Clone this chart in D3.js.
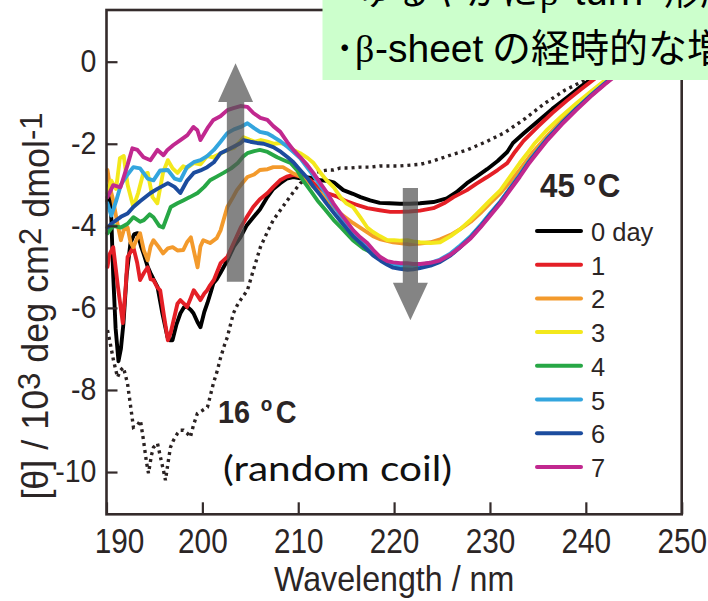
<!DOCTYPE html>
<html><head><meta charset="utf-8">
<script src="https://cdn.jsdelivr.net/npm/d3@7"></script>
<style>body{margin:0;background:#fff}svg{display:block}</style>
</head><body>
<svg id="c" width="708" height="601"></svg>
<script>
// ---------- data ----------
const xTicks = [190,200,210,220,230,240,250];
const xTickLabels = ["190","200","210","220","230","240","250"];
const yTicks = [0,-2,-4,-6,-8,-10];
const yTickLabels = ["0","-2","-4","-6","-8","-10"];
const seriesNames = ["0 day","1","2","3","4","5","6","7"];
const seriesColors = ["#000000","#e41f26","#f39a2c","#f3e81c","#27a745","#33a5de","#1c4c9e","#c1288f"];

const day0 = [[190.1,-3.4],[190.3,-3.0],[190.5,-3.8],[190.7,-5.2],[190.95,-6.5],[191.25,-7.3],[191.5,-7.0],[191.77,-6.37],[192.1,-5.2],[192.5,-4.42],[192.9,-4.2],[193.23,-4.18],[193.6,-4.5],[193.86,-4.67],[194.3,-5.0],[194.59,-5.15],[194.9,-5.3],[195.32,-5.49],[195.8,-6.1],[196.36,-6.71],[196.6,-6.79],[196.88,-6.79],[197.3,-6.4],[197.71,-6.13],[198.1,-5.98],[198.44,-5.98],[198.8,-6.05],[199.07,-6.13],[199.5,-6.35],[199.8,-6.47],[200.2,-6.1],[200.53,-5.88],[200.9,-5.6],[201.15,-5.4],[201.5,-5.3],[201.88,-5.15],[202.61,-4.84],[203.3,-4.5],[203.97,-4.28],[204.6,-4.0],[205.32,-3.79],[206,-3.6],[206.78,-3.3],[207.4,-3.1],[208.13,-2.96],[208.8,-2.85],[209.49,-2.81],[210.22,-2.84],[210.95,-2.82],[211.6,-2.84],[212.3,-2.89],[213,-2.9],[213.7,-2.94],[214.7,-3.13],[215.7,-3.22],[216.5,-3.3],[217.5,-3.38],[218.5,-3.44],[219.5,-3.45],[220.6,-3.46],[221.6,-3.46],[222.7,-3.45],[224.1,-3.42],[225.5,-3.33],[226.5,-3.18],[227.6,-2.96],[228.6,-2.8],[229.7,-2.62],[230.8,-2.42],[231.8,-2.2],[232.4,-1.98],[233.5,-1.75],[235,-1.45],[236.5,-1.15],[238,-0.88],[239.5,-0.6],[241,-0.35],[242.5,-0.12],[244,0.1],[245.5,0.3]];
const day1 = [[190.1,-5.0],[190.3,-4.7],[190.7,-4.52],[191.2,-5.5],[191.7,-6.37],[192.0,-5.5],[192.2,-4.76],[192.8,-4.52],[193.2,-4.9],[193.5,-5.32],[193.9,-5.15],[194.3,-5.01],[194.6,-5.3],[194.9,-5.32],[195.3,-5.5],[195.6,-5.57],[196.0,-6.2],[196.4,-6.79],[196.7,-6.6],[197.0,-6.3],[197.4,-5.9],[197.7,-5.81],[198.1,-5.9],[198.4,-5.98],[198.8,-5.75],[199.1,-5.57],[199.5,-5.7],[199.8,-5.81],[200.2,-5.65],[200.5,-5.57],[200.8,-5.45],[201.2,-5.32],[201.9,-4.91],[202.6,-4.76],[203.3,-4.4],[204,-4.04],[204.6,-3.8],[205.3,-3.54],[206,-3.35],[206.8,-3.2],[207.4,-3.05],[208.1,-2.89],[208.8,-2.8],[209.5,-2.76],[210.5,-2.81],[211.2,-2.87],[212,-3.05],[213,-3.2],[214,-3.28],[215,-3.4],[216,-3.48],[217.2,-3.57],[218.5,-3.62],[219.6,-3.66],[220.6,-3.66],[221.6,-3.65],[222.7,-3.63],[224.1,-3.57],[225.2,-3.45],[226.2,-3.3],[227.6,-3.13],[228.6,-2.97],[229.7,-2.81],[230.8,-2.64],[231.8,-2.47],[232.6,-2.2],[233.5,-1.93],[235,-1.58],[236.5,-1.25],[238,-0.95],[239.5,-0.67],[241,-0.4],[242.5,-0.15],[244,0.08],[245.5,0.28]];
const day2 = [[190.1,-2.64],[190.4,-3.1],[190.7,-3.38],[191.1,-3.9],[191.5,-4.35],[191.8,-4.1],[192.2,-4.04],[192.5,-4.4],[192.8,-4.52],[193.2,-4.3],[193.5,-4.18],[193.9,-4.6],[194.3,-4.84],[194.6,-4.5],[194.9,-4.35],[195.4,-4.5],[195.9,-4.67],[196.4,-4.55],[196.9,-4.52],[197.4,-4.6],[198,-4.59],[198.4,-4.4],[198.8,-4.28],[199.1,-4.6],[199.5,-5.01],[199.8,-4.5],[200.1,-4.35],[200.8,-4.42],[201.5,-4.3],[201.9,-4.11],[202.6,-3.54],[203.2,-3.3],[203.6,-3.13],[204.2,-2.95],[204.7,-2.81],[205.4,-2.75],[206,-2.64],[206.8,-2.62],[207.4,-2.57],[208.4,-2.57],[209.4,-2.71],[210.2,-2.8],[210.9,-2.89],[211.6,-3.05],[212.3,-3.2],[213,-3.35],[213.7,-3.54],[214.4,-3.7],[215.7,-3.93],[216.5,-4.05],[217.8,-4.25],[218.6,-4.33],[219.9,-4.4],[220.6,-4.42],[221.6,-4.45],[222.7,-4.43],[223.8,-4.4],[224.8,-4.33],[225.9,-4.22],[226.9,-4.08],[228,-3.9],[229,-3.69],[230,-3.45],[231.1,-3.2],[232.1,-2.93],[233.1,-2.64],[234.5,-2.2],[236,-1.8],[237.5,-1.43],[239,-1.1],[240.5,-0.78],[242,-0.48],[243.5,-0.2],[245,0.05],[246,0.2]];
const day3 = [[190.1,-3.2],[190.5,-2.9],[191,-3.1],[191.4,-2.35],[191.8,-2.3],[192.2,-3.0],[192.8,-3.54],[193.3,-3.2],[193.8,-2.75],[194.3,-2.71],[194.8,-3.3],[195.3,-3.45],[195.9,-2.7],[196.4,-2.4],[196.9,-2.6],[197.4,-2.71],[198,-2.55],[198.4,-2.59],[199.1,-2.47],[199.8,-2.5],[200.5,-2.3],[201.1,-2.33],[201.8,-2.25],[202.6,-2.15],[203.3,-2.1],[203.8,-1.98],[204.3,-1.84],[204.9,-1.9],[205.5,-1.95],[206.1,-1.91],[206.8,-1.95],[207.5,-2.0],[208.2,-1.98],[208.9,-2.05],[209.5,-2.15],[210.2,-2.23],[211,-2.35],[211.6,-2.47],[212.3,-2.7],[213,-2.9],[213.7,-3.06],[214.4,-3.3],[215,-3.45],[215.7,-3.54],[216.5,-3.8],[217.2,-4.04],[217.8,-4.15],[218.5,-4.25],[219.3,-4.35],[220,-4.35],[220.6,-4.36],[221.4,-4.35],[222,-4.38],[222.7,-4.4],[223.8,-4.42],[224.8,-4.4],[225.9,-4.25],[226.9,-4.08],[228,-3.85],[229,-3.62],[230,-3.38],[231.1,-3.13],[232.1,-2.8],[233.1,-2.47],[234,-2.2],[234.7,-1.98],[236,-1.65],[237.5,-1.32],[239,-1.02],[240.5,-0.73],[242,-0.45],[243.5,-0.18],[245,0.06],[246,0.2]];
const day4 = [[190.1,-4.18],[190.7,-4.0],[191.5,-4.04],[192.2,-3.95],[192.8,-3.79],[193.5,-3.9],[193.9,-3.86],[194.5,-3.72],[194.9,-3.79],[195.5,-4.0],[195.9,-4.04],[196.7,-3.54],[197.4,-3.45],[198,-3.38],[198.7,-3.3],[199.5,-3.2],[200.2,-3.05],[200.8,-2.89],[201.5,-2.8],[202.2,-2.71],[203,-2.6],[203.7,-2.47],[204.3,-2.3],[204.7,-2.23],[205.4,-2.18],[206,-2.15],[206.8,-2.2],[207.8,-2.33],[208.5,-2.4],[209.2,-2.47],[209.9,-2.65],[210.5,-2.89],[211.3,-3.15],[212,-3.38],[212.8,-3.6],[213.7,-3.86],[214.5,-4.05],[215.7,-4.35],[216.8,-4.55],[217.8,-4.67],[218.6,-4.8],[219.3,-4.9],[220,-4.97],[220.6,-5.0],[221.4,-5.02],[222,-5.02],[222.7,-5.0],[223.8,-4.94],[224.8,-4.85],[225.9,-4.7],[226.9,-4.5],[228,-4.26],[229,-4.0],[230,-3.72],[231.1,-3.41],[232.1,-3.09],[233.1,-2.77],[234,-2.46],[234.9,-2.19],[236,-1.87],[237.5,-1.5],[239,-1.15],[240.5,-0.83],[242,-0.53],[243.5,-0.25],[245,0.01],[246,0.16]];
const day5 = [[190.1,-3.45],[190.5,-3.75],[191,-3.4],[191.5,-3.0],[192.2,-2.75],[192.8,-2.57],[193.5,-2.6],[194.3,-2.85],[194.9,-2.89],[195.6,-2.65],[196.4,-2.64],[197.1,-2.85],[197.7,-2.89],[198.4,-2.57],[199.1,-2.45],[199.8,-2.4],[200.5,-2.3],[201.2,-2.15],[201.9,-1.95],[202.6,-1.74],[203.3,-1.65],[204,-1.59],[204.7,-1.5],[205.4,-1.62],[206,-1.71],[206.8,-1.75],[207.4,-1.83],[208.2,-1.95],[208.9,-2.08],[209.5,-2.2],[210.2,-2.35],[211,-2.6],[211.6,-2.78],[212.3,-3.02],[213,-3.25],[213.7,-3.5],[214.4,-3.74],[215.1,-3.96],[215.7,-4.15],[216.5,-4.32],[217.2,-4.47],[217.8,-4.62],[218.6,-4.78],[219.3,-4.88],[219.9,-4.93],[220.6,-4.96],[221.4,-4.97],[222,-4.98],[222.7,-4.95],[223.8,-4.9],[224.8,-4.82],[225.9,-4.67],[226.9,-4.48],[228,-4.25],[229,-3.99],[230,-3.7],[231.1,-3.4],[232.1,-3.08],[233.1,-2.76],[234,-2.45],[234.9,-2.18],[236,-1.86],[237.5,-1.49],[239,-1.14],[240.5,-0.82],[242,-0.52],[243.5,-0.24],[245,0.02],[246,0.17]];
const day6 = [[190.1,-4.04],[190.5,-3.95],[191.5,-3.78],[192.2,-3.7],[192.8,-3.54],[193.5,-3.4],[194.6,-3.2],[195.3,-3.1],[196.4,-2.96],[197.1,-3.05],[197.7,-3.2],[198.4,-2.9],[199.1,-2.71],[199.8,-2.65],[200.5,-2.57],[201.2,-2.45],[201.9,-2.23],[202.6,-2.15],[203.2,-2.08],[204,-1.98],[204.3,-1.91],[205,-1.95],[205.7,-1.98],[206.4,-2.0],[207.4,-2.08],[208.2,-2.2],[208.9,-2.33],[209.5,-2.45],[210.2,-2.64],[211,-2.85],[211.6,-3.05],[212.3,-3.25],[213,-3.47],[213.7,-3.68],[214.4,-3.88],[215.1,-4.08],[215.7,-4.25],[216.5,-4.42],[217.2,-4.58],[217.8,-4.72],[218.6,-4.85],[219.3,-4.95],[219.9,-5.02],[220.6,-5.05],[221.4,-5.07],[222,-5.06],[222.7,-5.03],[223.8,-4.97],[224.8,-4.88],[225.9,-4.72],[226.9,-4.52],[228,-4.28],[229,-4.02],[230,-3.73],[231.1,-3.42],[232.1,-3.1],[233.1,-2.78],[234,-2.47],[234.9,-2.2],[236,-1.88],[237.5,-1.5],[239,-1.15],[240.5,-0.83],[242,-0.53],[243.5,-0.25],[245,0.01],[246,0.16]];
const day7 = [[190.1,-3.3],[190.7,-3.01],[191.46,-3.06],[192.19,-2.52],[192.7,-2.11],[193.23,-2.15],[193.86,-2.33],[194.59,-2.4],[195.32,-2.15],[195.94,-2.28],[196.36,-2.15],[196.98,-2.03],[197.71,-1.91],[198.44,-1.79],[199.07,-1.59],[199.48,-1.67],[199.8,-1.91],[200.53,-1.62],[201.15,-1.42],[201.88,-1.33],[202.61,-1.18],[203.24,-1.13],[203.97,-1.08],[204.7,-1.1],[205.32,-1.25],[206.05,-1.37],[206.78,-1.42],[207.4,-1.57],[208.13,-1.71],[208.86,-1.96],[209.49,-2.15],[210.22,-2.33],[210.95,-2.52],[211.57,-2.71],[212.3,-2.96],[213.03,-3.2],[213.66,-3.45],[214.39,-3.69],[215.1,-3.91],[215.74,-4.11],[216.47,-4.28],[217.2,-4.42],[217.83,-4.59],[218.56,-4.76],[219.29,-4.86],[219.91,-4.89],[220.64,-4.91],[221.37,-4.91],[222.0,-4.93],[222.73,-4.93],[223.8,-4.9],[224.8,-4.84],[225.9,-4.7],[226.9,-4.52],[228,-4.3],[229,-4.04],[230,-3.76],[231.1,-3.45],[232.1,-3.13],[233.1,-2.81],[234,-2.5],[234.9,-2.23],[236,-1.91],[237.5,-1.53],[239,-1.18],[240.5,-0.85],[242,-0.55],[243.5,-0.27],[245,0.0],[246,0.15]];
const coil16 = [[190.1,-6.54],[190.42,-6.9],[190.73,-7.28],[191.15,-7.69],[191.46,-7.52],[191.77,-7.45],[192.19,-7.84],[192.5,-8.37],[192.81,-8.91],[193.23,-8.86],[193.54,-8.74],[193.86,-9.23],[194.17,-9.76],[194.38,-10.03],[194.69,-9.59],[194.9,-9.4],[195.32,-9.3],[195.63,-9.64],[195.94,-9.96],[196.15,-10.2],[196.46,-9.71],[196.67,-9.4],[196.98,-9.23],[197.4,-9.06],[197.71,-8.98],[198.03,-8.98],[198.44,-9.06],[198.75,-9.15],[199.07,-8.86],[199.48,-8.57],[200.0,-8.5],[200.53,-8.42],[200.84,-8.13],[201.15,-7.84],[201.57,-7.52],[201.88,-7.23],[202.3,-6.91],[202.61,-6.71],[202.92,-6.42],[203.24,-6.13],[203.65,-5.93],[203.97,-5.81],[204.7,-5.57],[205.32,-5.08],[206.05,-4.52],[206.78,-4.15],[207.4,-3.86],[208.13,-3.62],[208.86,-3.38],[209.49,-3.18],[210.22,-2.96],[210.95,-2.84],[211.57,-2.71],[212.3,-2.67],[213.03,-2.64],[213.66,-2.64],[214.39,-2.59],[215.4,-2.59],[216.47,-2.57],[217.5,-2.57],[218.56,-2.54],[219.6,-2.54],[220.64,-2.54],[221.7,-2.52],[222.73,-2.5],[224.08,-2.42],[225.85,-2.28],[227.62,-2.15],[229.7,-1.94],[231.6,-1.72],[233.7,-1.38],[235.75,-1.01],[237.84,-0.69],[239.92,-0.45],[242,-0.15],[244.1,0.09]];
const seriesData = [day0,day1,day2,day3,day4,day5,day6,day7];

// ---------- setup ----------
const svg = d3.select("#c");
const FONT = "'Liberation Sans', Arial, Helvetica, sans-serif";
const CJK = "'Noto Sans CJK JP', sans-serif";
const SERIF = "'Liberation Serif', 'Times New Roman', serif";
const axisColor = "#342b2b";
const x = d3.scaleLinear().domain([190,250]).range([106.5,681.7]);
const y = d3.scaleLinear().domain([-11.03,1.26]).range([514.3,10]);

svg.append("rect").attr("width",708).attr("height",601).attr("fill","#fff");

const defs = svg.append("defs");
defs.append("clipPath").attr("id","clip").append("rect")
  .attr("x",x(190)-3).attr("y",y(1.26)).attr("width",x(250)-x(190)+3).attr("height",y(-11.03)-y(1.26));

const line = d3.line().x(d=>x(d[0])).y(d=>y(d[1]));
const gPlot = svg.append("g").attr("clip-path","url(#clip)");

gPlot.append("path").datum(coil16).attr("d",line).attr("fill","none")
  .attr("stroke","#2a2222").attr("stroke-width",3.4).attr("stroke-dasharray","3,4");

seriesData.forEach((s,i)=>{
  gPlot.append("path").datum(s).attr("d",line).attr("fill","none")
    .attr("stroke",seriesColors[i]).attr("stroke-width",3.9)
    .attr("stroke-linejoin","round").attr("stroke-linecap","round");
});

// arrows (annotation, positioned in data units)
function arrow(lam, vTail, vBase, vTip, shaftHalf, headHalf){
  const cx=x(lam), yt=y(vTail), yb=y(vBase), yp=y(vTip);
  const pts=[[cx-shaftHalf,yt],[cx-shaftHalf,yb],[cx-headHalf,yb],[cx,yp],[cx+headHalf,yb],[cx+shaftHalf,yb],[cx+shaftHalf,yt]];
  svg.append("path").attr("d","M"+pts.map(p=>p.join(",")).join("L")+"Z")
    .attr("fill","#555").attr("opacity",0.72);
}
arrow(203.46,-5.36,-0.98,-0.04,8.7,17.5);
arrow(221.7,-3.08,-5.39,-6.3,7.6,17.5);

// ---------- axes ----------
const xAxis = d3.axisBottom(x).tickValues(xTicks).tickFormat((d,i)=>xTickLabels[i])
  .tickSizeInner(-12).tickSizeOuter(0).tickPadding(14);
const gx = svg.append("g").attr("transform",`translate(0,${y(-11.03)})`).call(xAxis);
const yAxis = d3.axisLeft(y).tickValues(yTicks).tickFormat((d,i)=>yTickLabels[i])
  .tickSizeInner(-11).tickSizeOuter(0).tickPadding(11);
const gy = svg.append("g").attr("transform",`translate(${x(190)},0)`).call(yAxis);

[gx,gy].forEach(g=>{
  g.select(".domain").remove();
  g.selectAll(".tick line").attr("stroke",axisColor).attr("stroke-width",2.2);
  g.selectAll(".tick text").attr("fill","#2b2525").style("font-family",FONT);
});
gx.selectAll(".tick text").style("font-size","35px").attr("transform","scale(0.85,1)");
gx.selectAll(".tick text").filter((d,i)=>i===0).attr("dx",14.7);
gy.selectAll(".tick text").style("font-size","31px").attr("transform","scale(0.92,1)");

svg.append("rect").attr("x",x(190)).attr("y",y(1.26)).attr("width",x(250)-x(190)).attr("height",y(-11.03)-y(1.26))
  .attr("fill","none").attr("stroke",axisColor).attr("stroke-width",2.6);

// helper for horizontally condensed text
function ctext(px,py,sx,opts){
  const g = svg.append("g").attr("transform",`translate(${px},${py}) scale(${sx},1)`);
  const t = g.append("text").attr("x",0).attr("y",0)
    .style("font-family",opts.family||FONT).style("font-size",opts.size+"px")
    .style("font-weight",opts.weight||"normal").attr("fill",opts.fill||"#2b2525")
    .attr("text-anchor",opts.anchor||"start");
  return t;
}

// axis titles
ctext(x(220),591,0.92,{size:35,anchor:"middle"}).text("Wavelength / nm");
{
  const g = svg.append("g").attr("transform","translate(48,306) rotate(-90) scale(0.97,1)");
  const t = g.append("text").attr("text-anchor","middle").style("font-family",FONT).style("font-size","37px").attr("fill","#2b2525");
  t.append("tspan").text("[θ] / 10");
  t.append("tspan").attr("dy","-0.25em").style("font-size","32px").text("3");
  t.append("tspan").attr("dy","0.22em").text(" deg cm");
  t.append("tspan").attr("dy","-0.22em").style("font-size","32px").text("2");
  t.append("tspan").attr("dy","0.22em").text(" dmol");
  t.append("tspan").attr("dy","-0.22em").style("font-size","32px").text("-1");
}

// legend
const legTitle = ctext(540,197,0.95,{size:33,weight:"bold"});
legTitle.append("tspan").text("45 ");
legTitle.append("tspan").attr("dy",-12).style("font-size","21px").text("o");
legTitle.append("tspan").attr("dy",12).attr("dx",2).text("C");
seriesNames.forEach((n,i)=>{
  const ly = 231 + i*33.7;
  svg.append("line").attr("x1",537).attr("x2",581).attr("y1",ly).attr("y2",ly)
    .attr("stroke",seriesColors[i]).attr("stroke-width",4).attr("stroke-linecap","round");
  ctext(591,ly+10,0.98,{size:26}).text(n);
});

// 16 oC annotation
const t16 = ctext(218,423,0.9,{size:32,weight:"bold"});
t16.append("tspan").text("16 ");
t16.append("tspan").attr("dy",-12).attr("dx",3).style("font-size","21px").text("o");
t16.append("tspan").attr("dy",12).attr("dx",4).text("C");
svg.append("text").attr("x",223).attr("y",481).style("font-family","Lato, 'Open Sans', sans-serif")
  .style("font-size","35px").attr("fill","#111").attr("textLength",229).attr("lengthAdjust","spacingAndGlyphs")
  .text("(random coil)");

// green box
svg.append("rect").attr("x",322.5).attr("y",-2).attr("width",400).attr("height",82).attr("fill","#ccffcc");
const l1 = svg.append("text").attr("y",5).attr("fill","#000");
l1.append("tspan").attr("x",339).style("font-family",CJK).style("font-size","36px").text("･");
l1.append("tspan").attr("x",358).style("font-family",CJK).style("font-size","36px").text("ゆるやかに");
l1.append("tspan").attr("x",540).style("font-family",SERIF).style("font-size","36px").text("β");
l1.append("tspan").attr("x",561).style("font-family",FONT).style("font-size","40px").text("-turn");
l1.append("tspan").attr("x",664).style("font-family",CJK).style("font-size","36px").text("形成");
const l2 = svg.append("text").attr("y",61.5).attr("fill","#000");
l2.append("tspan").attr("x",335).style("font-family",CJK).style("font-size","39px").text("･");
l2.append("tspan").attr("x",355).style("font-family",SERIF).style("font-size","38px").text("β");
l2.append("tspan").attr("x",375).style("font-family",FONT).style("font-size","39px").text("-sheet");
l2.append("tspan").attr("x",492).style("font-family",CJK).style("font-size","39px").text("の経時的な増加");
</script>
</body></html>
